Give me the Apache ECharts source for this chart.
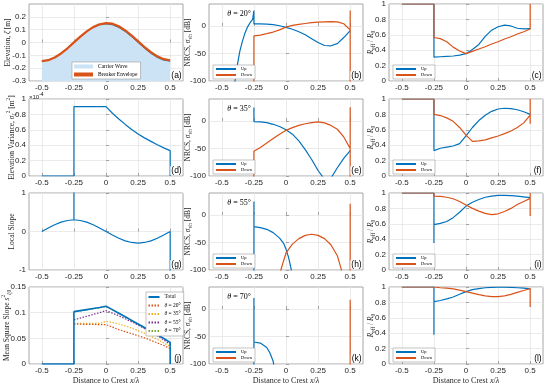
<!DOCTYPE html>
<html><head><meta charset="utf-8">
<script src="https://cdn.jsdelivr.net/npm/echarts@6/dist/echarts.min.js"></script>
<style>html,body{margin:0;padding:0;background:#fff}#c{width:550px;height:386px}</style>
</head><body><div id="c"></div>
<script>
// ---------- shared x grids / ticks ----------
const xFull = [-0.5,-0.45,-0.4,-0.35,-0.3,-0.25,-0.2,-0.15,-0.1,-0.05,0,0.05,0.1,0.15,0.2,0.25,0.3,0.35,0.4,0.45,0.5];
const xRight = [-0.25,-0.2,-0.15,-0.1,-0.05,0,0.05,0.1,0.15,0.2,0.25,0.3,0.35,0.4,0.45,0.5];
const xLeftEnds = [-0.5,-0.25];
const xTicks = [-0.5,-0.25,0,0.25,0.5];
const yTicksA = [-0.3,-0.2,-0.1,0,0.1,0.2];
const yTicksD = [0,0.2,0.4,0.6,0.8,1];
const yTicksG = [-1,0,1];
const yTicksJ = [0,0.05,0.1,0.15];
const yTicksNRCS = [-100,-50,0];
const yTicksR = [0,0.2,0.4,0.6,0.8,1];
const BELOW = -110;

// ---------- (a) elevation ----------
const carrierWave = [-0.145,-0.138,-0.117,-0.085,-0.045,0,0.045,0.085,0.117,0.138,0.145,0.138,0.117,0.085,0.045,0,-0.045,-0.085,-0.117,-0.138,-0.145];
const breakerEnvelope = [-0.145,-0.138,-0.117,-0.085,-0.045,0.001,0.046,0.087,0.12,0.142,0.151,0.146,0.126,0.094,0.054,0.009,-0.036,-0.076,-0.108,-0.13,-0.139];
// ---------- (d) variance (x1e-4) ----------
const varianceLeft = [0,0];
const varianceRight = [0.9,0.9,0.9,0.9,0.9,0.9,0.815,0.74,0.67,0.605,0.545,0.495,0.45,0.405,0.365,0.33];
const varianceEnd = [0];
// ---------- (g) local slope ----------
const localSlope = [0,0.093,0.176,0.243,0.285,0.305,0.285,0.243,0.176,0.093,0,-0.093,-0.176,-0.243,-0.285,-0.3,-0.285,-0.243,-0.176,-0.093,0];
const slopeSpikeTop = [1.2];
const slopeSpikeBottom = [-1.2];
// ---------- (j) mean square slope ----------
const msLeft = [0,0];
const msTotal = [0.102,0.104,0.106,0.108,0.110,0.1125,0.106,0.099,0.092,0.085,0.078,0.071,0.064,0.057,0.050,0.042];
const msEnd = [0];
const ms20 = [0.0775,0.0775,0.077,0.077,0.0768,0.0765,0.072,0.067,0.063,0.059,0.055,0.051,0.046,0.041,0.036,0.030];
const ms35 = [0.079,0.079,0.079,0.079,0.079,0.083,0.081,0.078,0.074,0.070,0.065,0.060,0.054,0.048,0.041,0.034];
const ms55 = [0.086,0.0895,0.093,0.0965,0.100,0.104,0.099,0.094,0.088,0.082,0.076,0.069,0.062,0.055,0.047,0.038];
const ms70 = [0.1015,0.1035,0.1055,0.1075,0.1095,0.112,0.1055,0.0985,0.0915,0.0845,0.0775,0.0705,0.0635,0.0565,0.0495,0.041];
// ---------- (b) NRCS 20 deg ----------
const bUpLeftX = [-0.4,-0.38,-0.36,-0.34,-0.32,-0.3,-0.28,-0.26,-0.25];
const bUpLeftY = [-105,-72,-46,-28,-13,-2,6,12,14];
const bUpSpikeTop = [28];
const bUpRight = [3.7,3.8,3.5,2.5,0.5,-2.4,-6,-10.5,-16,-23,-30,-35.5,-36,-32,-21,-8.5];
const bDownStart = [BELOW];
const bDownRight = [-18,-16.5,-14,-11,-7,-2,1,3,4.5,6,7,7.5,8,7.5,4,-7];
const bDownEnd = [28,BELOW];
// ---------- (e) NRCS 35 deg ----------
const eUpSpikeTop = [24.5];
const eUpRight = [-1,-1.5,-3,-6,-10,-16,-24,-36,-52,-70,-90,-106,-104,-85,-68,-54];
const eDownStart = [BELOW];
const eDownRight = [-55,-48,-40,-32,-24,-17,-12,-8,-5,-3,-1.5,-3.5,-8,-15,-29,-50];
const eDownEnd = [25,BELOW];
// ---------- (h) NRCS 55 deg ----------
const hUpStart = [BELOW,24.7];
const hUpX = [-0.25,-0.2,-0.15,-0.1,-0.05,-0.02,0,0.02,0.04,0.045];
const hUpY = [-21,-23,-26,-32,-42,-51,-62,-77,-98,-110];
const hDownX = [-0.045,-0.04,-0.02,0,0.05,0.1,0.15,0.2,0.25,0.3,0.35,0.4,0.43,0.435];
const hDownY = [-110,-100,-84,-69,-53,-43,-37,-35,-37,-43,-54,-74,-98,-110];
const hDownSpike = [BELOW,20.5];
// ---------- (k) NRCS 70 deg ----------
const kUpStart = [BELOW,20];
const kUpX = [-0.25,-0.2,-0.15,-0.125,-0.1,-0.09];
const kUpY = [-60,-62,-70,-80,-95,-110];
const kDownSpike = [BELOW,17];
// ---------- (c,f,i,l) R_eff / R_0 ----------
const rOne = [1,1];
const cUpRight = [0.31,0.315,0.32,0.325,0.335,0.355,0.41,0.475,0.58,0.66,0.705,0.725,0.715,0.685,0.678,0.68];
const cDownRight = [0.565,0.55,0.51,0.44,0.39,0.355,0.385,0.415,0.445,0.48,0.51,0.545,0.575,0.61,0.64,0.675];
const cDownEnd = [1];
const fUpSpikeLow = [0.33];
const fUpRight = [0.345,0.36,0.375,0.39,0.42,0.52,0.63,0.72,0.79,0.84,0.87,0.88,0.875,0.86,0.835,0.8];
const fDownRight = [0.8,0.785,0.755,0.71,0.63,0.53,0.45,0.455,0.47,0.495,0.52,0.55,0.585,0.63,0.69,0.79];
const fDownEnd = [1,0.68];
const iUpSpikeLow = [0.35];
const iUpRight = [0.59,0.605,0.63,0.68,0.75,0.83,0.88,0.915,0.945,0.96,0.97,0.97,0.965,0.96,0.95,0.94];
const iDownRight = [0.96,0.955,0.945,0.925,0.89,0.845,0.8,0.765,0.735,0.72,0.73,0.76,0.8,0.85,0.89,0.93];
const iDownEnd = [1,0.70];
const lUpSpikeLow = [0.38];
const lUpRight = [0.81,0.825,0.845,0.87,0.905,0.94,0.965,0.98,0.99,0.995,0.998,0.998,0.995,0.99,0.985,0.975];
const lDownRight = [0.995,0.99,0.985,0.975,0.96,0.94,0.92,0.9,0.885,0.875,0.875,0.885,0.905,0.93,0.955,0.98];
const lDownEnd = [1,0.74];

const panelLetters = ['a','b','c','d','e','f','g','h','i','j','k','l'];
const thetaLabels = ['20°','35°','55°','70°'];

// ---------- styling ----------
const SERIF = "'Liberation Serif','DejaVu Serif',serif";
const SANS = "'Liberation Sans','DejaVu Sans',sans-serif";
const TXT = '#262626', BORDER = '#8f8f8f', GRIDC = '#e6e6e6';
const BLUE='#0072BD', ORANGE='#D95319', YELLOW='#EDB120', PURPLE='#7E2F8E', GREEN='#77AC30', FILL='#cbe3f4';
const GRID_L = [29,209,389], GRID_T = [4,99,193,287], GW = 154, GH = 77;

function richSet(fs){ const s=fs*0.72; return {
  n:{fontFamily:SERIF,fontSize:fs,color:TXT,lineHeight:fs+3},
  i:{fontFamily:SERIF,fontSize:fs,fontStyle:'italic',color:TXT,lineHeight:fs+3},
  sub:{fontFamily:SERIF,fontSize:s,color:TXT,verticalAlign:'bottom',lineHeight:s},
  sup:{fontFamily:SERIF,fontSize:s,color:TXT,verticalAlign:'top',lineHeight:s}
};}
function path(parts){ const out=[]; parts.forEach(([x,ys])=>ys.forEach((y,i)=>out.push([Array.isArray(x)?x[i]:x,y]))); return out; }
function line(gi,name,color,data,extra){ return Object.assign({type:'line',name:name,xAxisIndex:gi,yAxisIndex:gi,data:data,symbol:'none',symbolSize:0,showSymbol:false,silent:true,
  lineStyle:{color:color,width:1.2},itemStyle:{color:color}},extra||{}); }

const NRCS = {min:-100,max:40,ticks:yTicksNRCS,name:'{n|NRCS, }{i|σ}{sub|vh}{n| [dB]}',gap:16};
const RR = {min:0,max:1,ticks:yTicksR,name:'{i|R}{sub|eff}{n| / }{i|R}{sub|0}',gap:13};
const panels = [
  {min:-0.3,max:0.3,ticks:yTicksA,name:'{n|Elevation, }{i|ζ}{n| [m]}',gap:16}, NRCS, RR,
  {min:0,max:1,ticks:yTicksD,name:'{n|Elevation Variance, }{i|σ}{sub|ζ}{sup|2}{n| [m}{sup|2}{n|]}',gap:12}, NRCS, RR,
  {min:-1,max:1,ticks:yTicksG,name:'{n|Local Slope}',gap:12}, NRCS, RR,
  {min:0,max:0.15,ticks:yTicksJ,name:'{n|Mean Square Slope }{i|s}{sup|2}{sub|ζ0}',gap:17}, NRCS, RR
];
const xName = '{n|Distance to Crest }{i|x}{n|/}{i|λ}';

const grids=[], xAxes=[], yAxes=[];
for(let gi=0;gi<12;gi++){
  const r=Math.floor(gi/3), c=gi%3, p=panels[gi];
  grids.push({left:GRID_L[c],top:GRID_T[r],width:GW,height:GH,show:true,borderColor:BORDER,borderWidth:0.8,backgroundColor:'transparent',containLabel:false,outerBoundsMode:'none'});
  xAxes.push({gridIndex:gi,type:'value',min:-0.6,max:0.6,
    axisLine:{show:false},
    axisTick:{show:true,inside:true,length:3,customValues:xTicks,lineStyle:{color:BORDER,width:0.8}},
    axisLabel:{show:true,customValues:xTicks,fontSize:8,fontFamily:SANS,color:TXT,margin:3},
    splitLine:{show:true,lineStyle:{color:GRIDC,width:0.8}},
    name:r===3?xName:'',nameLocation:'middle',nameGap:11,nameMoveOverlap:false,nameTextStyle:{rich:richSet(8)}});
  yAxes.push({gridIndex:gi,type:'value',min:p.min,max:p.max,
    axisLine:{show:false},
    axisTick:{show:true,inside:true,length:3,customValues:p.ticks,lineStyle:{color:BORDER,width:0.8}},
    axisLabel:{show:true,customValues:p.ticks,fontSize:8,fontFamily:SANS,color:TXT,margin:3},
    splitLine:{show:true,lineStyle:{color:GRIDC,width:0.8}},
    name:p.name,nameLocation:'middle',nameRotate:90,nameGap:p.gap,nameMoveOverlap:false,nameTextStyle:{rich:richSet(7.5)}});
}

const series = [
  // (a)
  line(0,'Carrier Wave',BLUE,path([[xFull,carrierWave]]),{lineStyle:{color:BLUE,width:1},areaStyle:{color:FILL,opacity:1,origin:'start'}}),
  line(0,'Breaker Envelope',ORANGE,path([[xFull,breakerEnvelope]]),{lineStyle:{color:ORANGE,width:2.3}}),
  // (d)
  line(3,'',BLUE,path([[xLeftEnds,varianceLeft],[xRight,varianceRight],[0.5,varianceEnd]])),
  // (g)
  line(6,'',BLUE,path([[xFull.slice(0,6),localSlope.slice(0,6)],[-0.25,slopeSpikeTop],[xFull.slice(5),localSlope.slice(5)],[0.5,slopeSpikeBottom]])),
  // (j)
  line(9,'θ = 70°',GREEN,path([[xRight,ms70]]),{lineStyle:{color:GREEN,width:1.2,type:[1.5,1.5]}}),
  line(9,'θ = 55°',PURPLE,path([[xRight,ms55]]),{lineStyle:{color:PURPLE,width:1.2,type:[1.5,1.5]}}),
  line(9,'θ = 35°',YELLOW,path([[xRight,ms35]]),{lineStyle:{color:YELLOW,width:1.2,type:[1.5,1.5]}}),
  line(9,'θ = 20°',ORANGE,path([[xRight,ms20]]),{lineStyle:{color:ORANGE,width:1.2,type:[1.5,1.5]}}),
  line(9,'Total',BLUE,path([[xLeftEnds,msLeft],[xRight,msTotal],[0.5,msEnd]]),{lineStyle:{color:BLUE,width:1.6}}),
  // (b)
  line(1,'Up',BLUE,path([[bUpLeftX,bUpLeftY],[-0.25,bUpSpikeTop],[xRight,bUpRight]])),
  line(1,'Down',ORANGE,path([[-0.25,bDownStart],[xRight,bDownRight],[0.5,bDownEnd]])),
  // (e)
  line(4,'Up',BLUE,path([[-0.25,eUpSpikeTop],[xRight,eUpRight]])),
  line(4,'Down',ORANGE,path([[-0.25,eDownStart],[xRight,eDownRight],[0.5,eDownEnd]])),
  // (h)
  line(7,'Up',BLUE,path([[-0.25,hUpStart],[hUpX,hUpY]])),
  line(7,'Down',ORANGE,path([[hDownX,hDownY]])),
  line(7,'',ORANGE,path([[0.5,hDownSpike]])),
  // (k)
  line(10,'Up',BLUE,path([[-0.25,kUpStart],[kUpX,kUpY]])),
  line(10,'Down',ORANGE,path([[0.5,kDownSpike]])),
  // (c)
  line(2,'Up',BLUE,path([[xLeftEnds,rOne],[xRight,cUpRight]])),
  line(2,'Down',ORANGE,path([[xLeftEnds,rOne],[xRight,cDownRight],[0.5,cDownEnd]])),
  // (f)
  line(5,'Up',BLUE,path([[xLeftEnds,rOne],[-0.25,fUpSpikeLow],[xRight,fUpRight]])),
  line(5,'Down',ORANGE,path([[xLeftEnds,rOne],[xRight,fDownRight],[0.5,fDownEnd]])),
  // (i)
  line(8,'Up',BLUE,path([[xLeftEnds,rOne],[-0.25,iUpSpikeLow],[xRight,iUpRight]])),
  line(8,'Down',ORANGE,path([[xLeftEnds,rOne],[xRight,iDownRight],[0.5,iDownEnd]])),
  // (l)
  line(11,'Up',BLUE,path([[xLeftEnds,rOne],[-0.25,lUpSpikeLow],[xRight,lUpRight]])),
  line(11,'Down',ORANGE,path([[xLeftEnds,rOne],[xRight,lDownRight],[0.5,lDownEnd]]))
];

const legRich = fs => ({n:{fontFamily:SERIF,fontSize:fs,color:'#000'},i:{fontFamily:SERIF,fontSize:fs,fontStyle:'italic',color:'#000'}});
function legFmt(name){ return name.charAt(0)==='θ' ? '{i|θ}{n|'+name.slice(1)+'}' : '{n|'+name+'}'; }
const legendBase = {orient:'vertical',selectedMode:false,backgroundColor:'#fff',borderColor:'#9a9a9a',borderWidth:0.6,borderRadius:0,formatter:legFmt};
const lineIcon = {opacity:0};
const legends = [
  Object.assign({},legendBase,{left:72,top:62,itemWidth:19,itemHeight:4,itemGap:2,padding:[1.5,3,1.5,2],
    textStyle:{fontSize:5.5,rich:legRich(5.5)},
    data:[{name:'Carrier Wave',icon:'rect',itemStyle:{color:FILL}},{name:'Breaker Envelope',icon:'rect',itemStyle:{color:ORANGE}}]}),
  Object.assign({},legendBase,{left:146,top:292,itemWidth:11,itemHeight:6,itemGap:2.5,padding:[2,3,2,1.5],itemStyle:lineIcon,
    textStyle:{fontSize:5.5,rich:legRich(5.5)},
    data:['Total','θ = 20°','θ = 35°','θ = 55°','θ = 70°']})
];
[1,2].forEach(c=>GRID_T.forEach(t=>{
  legends.push(Object.assign({},legendBase,{left:GRID_L[c]+4,top:t+61,itemWidth:20,itemHeight:4,itemGap:1,padding:[1.5,3,1.5,2],itemStyle:lineIcon,
    textStyle:{fontSize:4.5,rich:legRich(4.5)},data:['Up','Down']}));
}));

const graphic = [];
panelLetters.forEach((L,gi)=>{
  const r=Math.floor(gi/3), c=gi%3;
  graphic.push({type:'text',x:GRID_L[c]+GW-0.8,y:GRID_T[r]+GH-0.8,z:100,silent:true,
    style:{text:'('+L+')',fontSize:8.5,fontFamily:SANS,fill:'#000',align:'right',verticalAlign:'bottom',backgroundColor:'#fff',padding:[0,0.5,0,1]}});
});
thetaLabels.forEach((t,r)=>{
  graphic.push({type:'text',x:251,y:GRID_T[r]+10,z:100,silent:true,
    style:{text:'{i|θ}{n| = '+t+'}',align:'right',verticalAlign:'middle',rich:richSet(8)}});
});
graphic.push({type:'text',x:29,y:97,z:100,silent:true,
  style:{text:'{n|×10}{s|-4}',align:'left',verticalAlign:'middle',
    rich:{n:{fontFamily:SANS,fontSize:6,fill:TXT,color:TXT,lineHeight:9},s:{fontFamily:SANS,fontSize:5,color:TXT,verticalAlign:'top',lineHeight:5}}}});

const chart = echarts.init(document.getElementById('c'),null,{renderer:'canvas'});
chart.setOption({animation:false,backgroundColor:'#fff',grid:grids,xAxis:xAxes,yAxis:yAxes,series:series,legend:legends,graphic:graphic});
</script></body></html>
